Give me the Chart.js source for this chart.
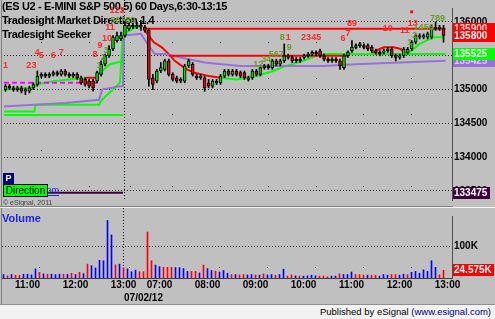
<!DOCTYPE html>
<html>
<head>
<meta charset="utf-8">
<script src="https://cdn.jsdelivr.net/npm/chart.js@4.4.1/dist/chart.umd.min.js"></script>
<style>
  html, body { margin: 0; padding: 0; }
  body { width: 495px; height: 319px; background: #c0c0c0; position: relative; overflow: hidden;
         font-family: "Liberation Sans", Arial, sans-serif; }
  .pane { position: absolute; left: 0; width: 495px; }
  #pricePane { top: 0; height: 208px; }
  #volPane { top: 208px; height: 96px; }
  #footer { position: absolute; left: 0; top: 304px; width: 495px; height: 15px; box-sizing: border-box;
            background: #f2f2f2; border-top: 1px solid #909090; font-size: 9.5px; line-height: 14px;
            text-align: right; padding-right: 4px; color: #000; }
  #footer span { color: #000080; }
</style>
</head>
<body>
<div class="pane" id="pricePane"><canvas id="price" width="495" height="208"></canvas></div>
<div class="pane" id="volPane"><canvas id="volume" width="495" height="96"></canvas></div>
<div id="footer">Published by eSignal (<span>www.esignal.com</span>)</div>
<script>
// 5-minute bars, 07/01 10:30-13:10 then 07/02 06:30-12:55 (bar index on x)
const timeTicks  = [6, 18, 30, 39, 51, 63, 75, 87, 99, 111];
const timeLabels = ['11:00', '12:00', '13:00', '07:00', '08:00', '09:00', '10:00', '11:00', '12:00', '13:00'];
const gridIdx    = [3, 15, 27, 36, 48, 60, 72, 84, 96, 108];
const sessionBreak = 30;
const sessionDate  = '07/02/12';
const priceTicks = [133500, 134000, 134500, 135000, 135500, 136000];

const opens = [135000,135050,135025,135000,135025,135000,134975,135025,135075,135200,
  135225,135200,135225,135250,135225,135275,135225,135200,135225,135175,
  135150,135125,135125,135125,135225,135375,135500,135600,135725,135750,
  135800,135900,135950,135925,135950,135925,135875,135175,135125,135275,
  135300,135425,135225,135175,135125,135125,135350,135375,135200,135175,
  135175,135100,135050,135125,135100,135200,135275,135225,135275,135250,
  135250,135175,135175,135275,135225,135325,135350,135325,135425,135375,
  135425,135500,135475,135450,135425,135475,135500,135525,135550,135575,
  135500,135450,135425,135450,135425,135325,135500,135575,135625,135650,
  135650,135650,135625,135575,135550,135550,135575,135600,135500,135475,
  135500,135550,135600,135700,135800,135775,135775,135775,135925,135900,135900];
const highs = [135075,135075,135050,135050,135050,135025,135050,135100,135275,135250,
  135250,135250,135275,135275,135300,135300,135250,135250,135250,135200,
  135175,135150,135150,135275,135425,135525,135650,135800,135850,135850,
  136000,136000,136050,136000,136025,135950,135900,135225,135300,135400,
  135450,135450,135250,135200,135175,135375,135450,135400,135225,135225,
  135200,135150,135150,135150,135225,135300,135300,135300,135300,135275,
  135275,135200,135300,135300,135350,135375,135375,135450,135450,135450,
  135675,135525,135500,135475,135475,135525,135550,135575,135575,135600,
  135525,135475,135475,135475,135450,135525,135575,135725,135675,135700,
  135675,135675,135650,135600,135575,135600,135625,135625,135525,135525,
  135625,135625,135725,135825,135825,135825,135850,135950,136000,135950,135950];
const lows = [134975,135000,134975,134975,134950,134925,134950,135000,135050,135175,
  135175,135175,135200,135200,135200,135200,135175,135175,135150,135075,
  135050,135025,134975,135100,135200,135350,135475,135575,135700,135725,
  135775,135875,135900,135900,135875,135850,135050,135000,135100,135250,
  135275,135200,135125,135100,135100,135100,135325,135200,135150,135150,
  134975,135025,135025,135075,135075,135175,135200,135200,135200,135175,
  135150,135125,135150,135200,135200,135300,135300,135300,135350,135350,
  135400,135450,135400,135400,135400,135450,135475,135500,135500,135475,
  135425,135400,135400,135400,135300,135300,135475,135550,135600,135625,
  135600,135575,135550,135525,135500,135525,135550,135475,135425,135450,
  135475,135525,135575,135675,135750,135750,135750,135750,135875,135875,135700];
const closes = [135050,135025,135000,135025,134975,134975,135025,135075,135200,135225,
  135200,135225,135250,135225,135275,135225,135200,135225,135175,135100,
  135075,135050,135025,135250,135375,135500,135600,135775,135800,135800,
  135950,135950,135925,135950,135925,135875,135150,135075,135275,135325,
  135425,135225,135150,135125,135150,135350,135425,135225,135175,135200,
  135025,135050,135125,135100,135200,135275,135225,135275,135225,135200,
  135175,135150,135275,135225,135325,135350,135325,135425,135375,135425,
  135500,135475,135425,135425,135450,135500,135525,135550,135525,135500,
  135450,135425,135450,135425,135350,135500,135550,135625,135650,135675,
  135625,135600,135575,135550,135525,135575,135600,135500,135475,135500,
  135600,135600,135700,135800,135775,135800,135825,135925,135900,135925,135800];

// volume in thousands, and tick direction (1 = up/blue, 0 = down/red)
const volumes = [11,7,11,9,9,12,12,10,29,18, 13,12,12,11,12,12,12,15,11,18,
  14,44,39,32,56,55,183,137,42,44, 32,29,20,25,20,20,146,55,41,36,
  34,34,34,33,33,30,21,21,21,16, 41,30,24,22,19,24,15,11,11,10,
  11,10,11,10,9,13,10,11,9,11, 28,6,10,7,6,6,7,9,7,6,
  6,4,6,6,13,11,11,19,11,11, 9,9,9,9,6,11,9,11,11,9,
  12,11,18,21,15,26,21,55,34,10,24.575];
const volUp = [1,0,1,0,0,1,1,1,1,0, 1,0,1,1,1,0,1,0,1,0, 1,0,1,1,1,1,1,1,0,1,
  0,1,1,1,0,0,0,0,1,1, 0,0,0,1,1,1,1,0,0,1, 0,1,1,0,1,1,1,0,1,0,
  0,1,1,0,1,0,1,1,0,1, 1,0,0,1,0,1,1,1,1,0, 0,0,1,1,0,1,1,1,0,0,
  0,1,0,0,1,1,1,0,0,1, 1,0,1,1,1,1,1,1,1,0,0];

// Seeker trailing stop: [bar, price]; null breaks the line
const stopUp = [[-0.375,135000],[7,135025],[8,135075],[12,135125],[16,135150],[20,135175],[20,null],
  [23.5,135225],[24.25,135275],[26.25,135375],[28,135400],[29.5,135425],[29.6,135825],[32,135900],[34,135950],[34,null],
  [54,135175],[58,135150],[63,135200],[67.25,135275],[70.5,135350],[74.75,135425],[78,135500],[79.75,135525],[92,135525],[92,null],
  [100.5,135525],[102,135575],[104,135675],[107.5,135775],[110,135775]];
const stopDn = [[20,135175],[23.5,135175],[23.5,null],
  [35,135875],[36.25,135775],[37.25,135700],[39.25,135625],[41,135525],[42.5,135425],[44.25,135350],[45.5,135300],
  [47.5,135250],[49.25,135225],[51,135200],[54,135175],[54,null],
  [92,135525],[93,135575],[95,135625],[97.5,135625],[99.25,135600],[100.5,135525]];
const slowPurple = [[-0.375,134750],[7.25,134775],[15,134800],[23.5,134850],[24.25,135000],[28.75,135050],[29.5,135050],
  [29.75,135800],[34,135825],[36.25,135625],[37.5,135525],[40,135525],[46,135450],[50,135400],[54.25,135375],
  [59,135350],[79.75,135350],[88,135375],[99,135400],[110.5,135425]];
const slowGreen = [[-0.375,134675],[7.25,134675],[7.5,134775],[23.5,134775],[24.25,134850],[28.75,135100],[29.5,135850]];

// horizontal levels [bar, price]
const levelHi    = [[35,135900],[110.5,135900]];
const levelLo    = [[41,135500],[86,135500]];
const levelSup   = [[80,135525],[110.5,135525]];
const levelPivot = [[-0.375,135100],[23.75,135100]];
const levelBase  = [[-0.375,134625],[29.5,134625]];
const levelFloor = [[-0.375,133475],[29.5,133475]];

// setup counts
const cntText  = ['1','23','4','5','6','7','8','9','10','11','123','1','2','3','56789',
                  '12','34','567','8','9','1','2345','6','7','89','10','11','1','2','13','1456','789'];
const cntIdx   = [0,6.5,8,9,12,14,22.5,23.75,25.5,26.25,28,23.5,24.5,25.25,29.5,
                  63.5,65.5,68,69.5,71.25,71,76.75,84.75,86,87,96,100.25,101.5,102.75,102.25,105,108.5];
const cntPrice = [135350,135350,135550,135500,135500,135550,135525,135650,135750,135925,136175,135350,135475,135575,136025,
                  135375,135450,135525,135775,135625,135775,135775,135750,135825,135975,135900,135875,135700,135800,135975,135925,136050];
const cntBuy   = [0,0,0,0,0,0,0,0,0,0,0,1,1,1,1, 1,1,1,1,1,0,0,0,0,0,0,0,1,1,0,1,1];
const alertIdx = [102], alertPrice = [136150];

const FONT = '"Liberation Sans", Arial, sans-serif';
const XMIN = -0.375, XMAX = 112.125;
const toXY = a => a.map(([x, y]) => ({x, y}));
const bars = opens.map((_, i) => i);

function lineSet(pts, color, width, dash) {
  return { type: 'line', data: toXY(pts), borderColor: color, borderWidth: width || 2, borderDash: dash || [],
           pointRadius: 0, fill: false, tension: 0, spanGaps: false, order: 5 };
}

function tag(ctx, y, bg, fg, text, full) {
  ctx.font = 'bold 10px ' + FONT;
  const w = full ? 42 : Math.ceil(ctx.measureText(text).width) + 3;
  ctx.fillStyle = bg;
  ctx.fillRect(453, Math.round(y) - 6, w, 12);
  ctx.fillStyle = fg;
  ctx.textAlign = 'left';
  ctx.textBaseline = 'middle';
  ctx.fillText(text, 454, Math.round(y) + 0.5);
}

function sessionLine(ctx, chart) {
  const x = Math.round(chart.scales.x.getPixelForValue(sessionBreak)) - 0.5;
  ctx.save();
  ctx.strokeStyle = '#000';
  ctx.lineWidth = 1;
  ctx.setLineDash([1, 2]);
  ctx.beginPath();
  ctx.moveTo(x, 0);
  ctx.lineTo(x, chart.chartArea.bottom);
  ctx.stroke();
  ctx.restore();
}

const pricePlugin = {
  id: 'priceDecor',
  beforeDatasetsDraw(chart) {
    const ctx = chart.ctx;
    sessionLine(ctx, chart);
    ctx.save();
    ctx.font = 'bold 11px ' + FONT;
    ctx.letterSpacing = '-0.35px';
    ctx.fillStyle = '#000';
    ctx.textAlign = 'left';
    ctx.textBaseline = 'top';
    ctx.fillText('(ES U2 - E-MINI S&P 500,5) 60 Days,6:30-13:15', 2, 1);
    ctx.fillText('Tradesight Market Direction 1.4', 2, 15);
    ctx.fillText('Tradesight Seeker', 2, 29);
    ctx.restore();
  },
  afterDatasetsDraw(chart) {
    const ctx = chart.ctx, xs = chart.scales.x, ys = chart.scales.y;
    ctx.save();
    ctx.font = 'bold 9px ' + FONT;
    ctx.textAlign = 'center';
    ctx.textBaseline = 'middle';
    cntText.forEach((t, k) => {
      ctx.fillStyle = cntBuy[k] ? '#6a9c2c' : '#ff2828';
      ctx.fillText(t, xs.getPixelForValue(cntIdx[k]), ys.getPixelForValue(cntPrice[k]));
    });
    ctx.restore();
  },
  afterDraw(chart) {
    const ctx = chart.ctx, ys = chart.scales.y;
    ctx.save();
    // value tags on the price axis
    tag(ctx, ys.getPixelForValue(levelHi[0][1]), '#ff0000', '#ffd0d0', String(levelHi[0][1]), true);
    tag(ctx, ys.getPixelForValue(closes[closes.length - 1]), '#ff0000', '#ffffff', String(closes[closes.length - 1]), true);
    const pLast = slowPurple[slowPurple.length - 1][1];
    tag(ctx, ys.getPixelForValue(pLast), '#9a6fd8', '#d8c8f0', String(pLast), true);
    tag(ctx, ys.getPixelForValue(levelSup[0][1]), '#00ff00', '#ffffff', String(levelSup[0][1]), true);
    tag(ctx, ys.getPixelForValue(levelFloor[0][1]), '#400040', '#ffffff', String(levelFloor[0][1]), false);

    // link text partly hidden behind the Direction button
    ctx.beginPath(); ctx.rect(3, 180, 60, 20); ctx.clip();
    ctx.font = '9px ' + FONT;
    ctx.fillStyle = '#2020ff';
    ctx.textAlign = 'right';
    ctx.textBaseline = 'middle';
    ctx.fillText('tradesight.com', 59, 191);
    ctx.fillRect(3, 195, 56, 1);
    ctx.restore();
    ctx.save();
    // P badge and Direction button
    ctx.fillStyle = '#000080';
    ctx.fillRect(3, 173, 11, 11);
    ctx.fillStyle = '#ffffff';
    ctx.font = 'bold 9px ' + FONT;
    ctx.textAlign = 'center';
    ctx.textBaseline = 'middle';
    ctx.fillText('P', 8.5, 179);
    ctx.fillStyle = '#00ff00';
    ctx.fillRect(3, 184, 45, 13);
    ctx.strokeStyle = '#000';
    ctx.lineWidth = 1;
    ctx.strokeRect(3.5, 184.5, 44, 12);
    ctx.fillStyle = '#000';
    ctx.font = '10px ' + FONT;
    ctx.fillText('Direction', 25.5, 191);
    ctx.font = '7px ' + FONT;
    ctx.fillStyle = '#404040';
    ctx.textAlign = 'left';
    ctx.fillText('\u00a9 eSignal, 2011', 3, 203);
    // frame
    ctx.fillStyle = '#808080';
    ctx.fillRect(1, 0, 1, 207);
    ctx.fillRect(0, 206, 453, 1);
    ctx.fillStyle = '#f4f4f4';
    ctx.fillRect(0, 207, 495, 1);
    ctx.restore();
  }
};

new Chart(document.getElementById('price'), {
  type: 'bar',
  data: {
    datasets: [
      { type: 'bar', data: bars.map(i => ({x: i, y: [Math.min(opens[i], closes[i]), Math.max(opens[i], closes[i])]})),
        backgroundColor: bars.map(i => closes[i] >= opens[i] ? '#00e000' : '#f00000'),
        borderColor: '#000', borderWidth: 1, borderSkipped: false, barThickness: 3, grouped: false, order: 0 },
      { type: 'bar', data: bars.map(i => ({x: i, y: [lows[i], highs[i]]})),
        backgroundColor: '#000', borderWidth: 0, barThickness: 1, grouped: false, order: 1 },
      { type: 'line', data: alertIdx.map((x, k) => ({x, y: alertPrice[k]})), showLine: false,
        pointStyle: 'rect', pointRadius: 2, backgroundColor: '#ff0000', borderWidth: 0, order: 0 },
      lineSet(levelHi, '#ff0000'),
      lineSet(levelLo, '#ff0000'),
      lineSet(levelSup, '#00ff00'),
      lineSet(levelPivot, '#ff00ff', 2, [5, 3]),
      lineSet(levelBase, '#00ff00'),
      lineSet(levelFloor, '#400040'),
      lineSet(slowPurple, '#9a6fd8'),
      lineSet(slowGreen, '#00ff00'),
      lineSet(stopDn, '#ff0000'),
      lineSet(stopUp, '#00ff00')
    ]
  },
  options: {
    responsive: false, animation: false, events: [],
    layout: { padding: { left: 2, right: 0, top: 1, bottom: 1 } },
    plugins: { legend: { display: false }, tooltip: { enabled: false } },
    scales: {
      x: {
        type: 'linear', min: XMIN, max: XMAX, offset: false,
        afterBuildTicks: s => { s.ticks = gridIdx.map(v => ({value: v})); },
        afterFit: s => { s.height = 0; },
        ticks: { display: false },
        grid: { color: '#202020', drawTicks: false },
        border: { display: false, dash: [1, 35], dashOffset: 2 }
      },
      y: {
        type: 'linear', position: 'right', min: 133366, max: 136207,
        afterBuildTicks: s => { s.ticks = priceTicks.map(v => ({value: v})); },
        afterFit: s => { s.width = 43; },
        ticks: { color: '#000', padding: 2, font: { family: FONT, size: 10, weight: 'bold' }, callback: v => String(v) },
        grid: { color: '#202020', drawTicks: false },
        border: { display: true, color: '#505050', dash: [1, 2] }
      }
    }
  },
  plugins: [pricePlugin]
});

const volPlugin = {
  id: 'volDecor',
  beforeDatasetsDraw(chart) { sessionLine(chart.ctx, chart); },
  afterDraw(chart) {
    const ctx = chart.ctx, xs = chart.scales.x, ys = chart.scales.y;
    ctx.save();
    ctx.font = 'bold 11px ' + FONT;
    ctx.fillStyle = '#2222ee';
    ctx.textAlign = 'left';
    ctx.textBaseline = 'top';
    ctx.fillText('Volume', 2, 5);
    const last = volumes[volumes.length - 1];
    tag(ctx, ys.getPixelForValue(last), '#ff0000', '#ffffff', last + 'K', false);
    ctx.font = 'bold 10px ' + FONT;
    ctx.fillStyle = '#000';
    ctx.textAlign = 'center';
    ctx.textBaseline = 'top';
    ctx.fillText(sessionDate, xs.getPixelForValue(35), 85);
    ctx.fillStyle = '#808080';
    ctx.fillRect(1, 0, 1, 96);
    ctx.restore();
  }
};

new Chart(document.getElementById('volume'), {
  type: 'bar',
  data: {
    datasets: [{
      data: bars.map(i => ({x: i, y: volumes[i]})),
      backgroundColor: bars.map(i => volUp[i] ? '#0000ff' : '#ff0000'),
      borderWidth: 0, barThickness: 1, grouped: false
    }]
  },
  options: {
    responsive: false, animation: false, events: [],
    layout: { padding: { left: 2, right: 0, top: 1, bottom: 0 } },
    plugins: { legend: { display: false }, tooltip: { enabled: false } },
    scales: {
      x: {
        type: 'linear', min: XMIN, max: XMAX, offset: false,
        afterBuildTicks: s => { s.ticks = timeTicks.map(v => ({value: v})); },
        afterFit: s => { s.height = 26; },
        ticks: { autoSkip: false, maxRotation: 0, padding: 1, color: '#000',
                 font: { family: FONT, size: 10, weight: 'bold' },
                 callback: v => timeLabels[timeTicks.indexOf(v)] },
        grid: { display: false, drawTicks: false },
        border: { display: true, color: '#404040' }
      },
      xg: {
        type: 'linear', axis: 'x', position: 'bottom', min: XMIN, max: XMAX, offset: false,
        afterBuildTicks: s => { s.ticks = gridIdx.map(v => ({value: v})); },
        afterFit: s => { s.height = 0; },
        ticks: { display: false },
        grid: { color: '#202020', drawTicks: false },
        border: { display: false, dash: [1, 70], dashOffset: 20 }
      },
      y: {
        type: 'linear', position: 'right', min: 0, max: 197.1,
        afterBuildTicks: s => { s.ticks = [{value: 100}]; },
        afterFit: s => { s.width = 43; },
        ticks: { color: '#000', padding: 2, font: { family: FONT, size: 10, weight: 'bold' }, callback: v => v + 'K' },
        grid: { color: '#202020', drawTicks: false },
        border: { display: true, color: '#505050', dash: [1, 2] }
      }
    }
  },
  plugins: [volPlugin]
});
</script>
</body>
</html>
